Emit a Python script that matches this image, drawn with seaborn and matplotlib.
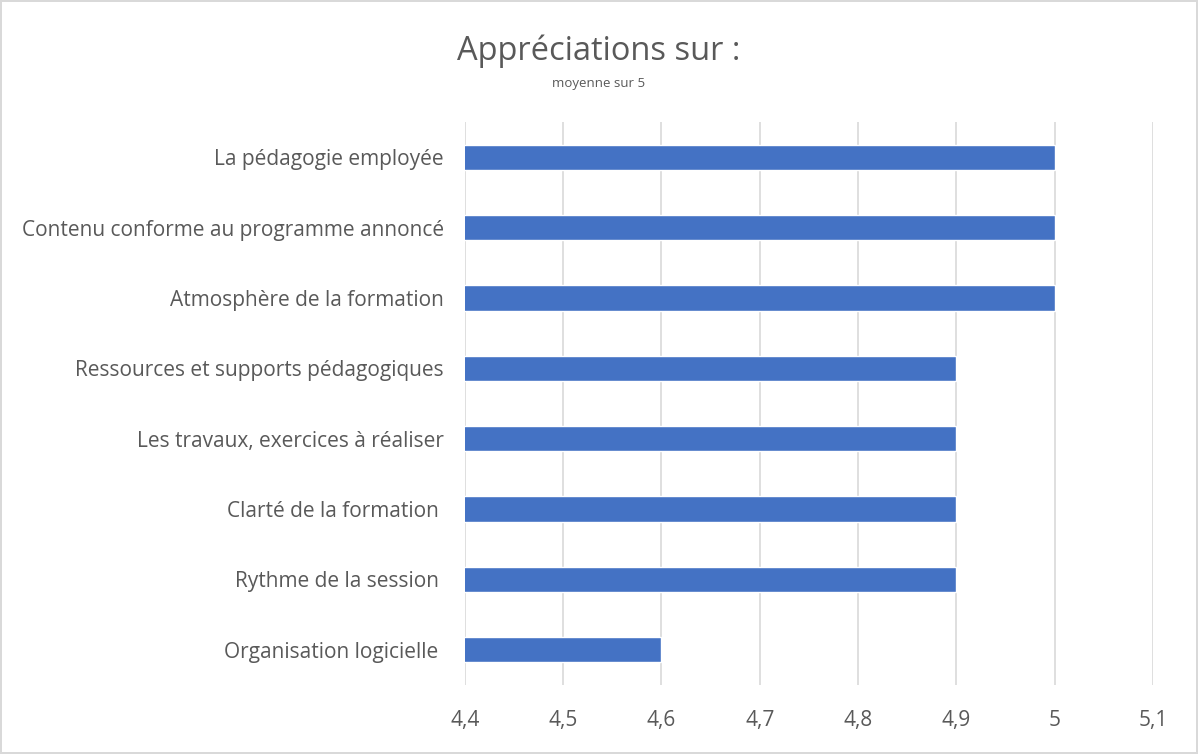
import matplotlib
matplotlib.use("Agg")
import matplotlib.pyplot as plt
import seaborn as sns
import pandas as pd

categories = [
    "La pédagogie employée",
    "Contenu conforme au programme annoncé",
    "Atmosphère de la formation",
    "Ressources et supports pédagogiques",
    "Les travaux, exercices à réaliser",
    "Clarté de la formation ",
    "Rythme de la session ",
    "Organisation logicielle ",
]
moyennes = [5.0, 5.0, 5.0, 4.9, 4.9, 4.9, 4.9, 4.6]
ticks = [4.4, 4.5, 4.6, 4.7, 4.8, 4.9, 5.0, 5.1]

df = pd.DataFrame({"critere": categories, "moyenne": moyennes})

sns.set_style("white")
plt.rcParams["font.family"] = ["Open Sans", "DejaVu Sans"]
gris = "#595959"

fig = plt.figure(figsize=(11.98, 7.54), dpi=100, edgecolor="#d9d9d9", linewidth=1.5)
ax = fig.add_axes([0.388, 0.0915, 0.5744, 0.7467])

sns.barplot(data=df, x="moyenne", y="critere", orient="h", color="#4472c4",
            saturation=1, width=0.36, ax=ax)

ax.set_xlim(4.4, 5.1)
ax.set_xticks(ticks)
ax.set_xticklabels([f"{t:g}".replace(".", ",") for t in ticks])
ax.grid(axis="x", color="#d9d9d9", linewidth=1.2)
ax.set_axisbelow(True)
for s in ax.spines.values():
    s.set_visible(False)
ax.tick_params(axis="both", length=0, colors=gris, labelsize=15)
ax.tick_params(axis="x", pad=18)
ax.tick_params(axis="y", pad=15)
ax.set_xlabel("")
ax.set_ylabel("")

fig.text(0.5, 0.932, "Appréciations sur :", ha="center", va="center", fontsize=23.5, color=gris)
fig.text(0.5, 0.889, "moyenne sur 5", ha="center", va="center", fontsize=9.5, color=gris)

fig.savefig("out.png", dpi=100)
